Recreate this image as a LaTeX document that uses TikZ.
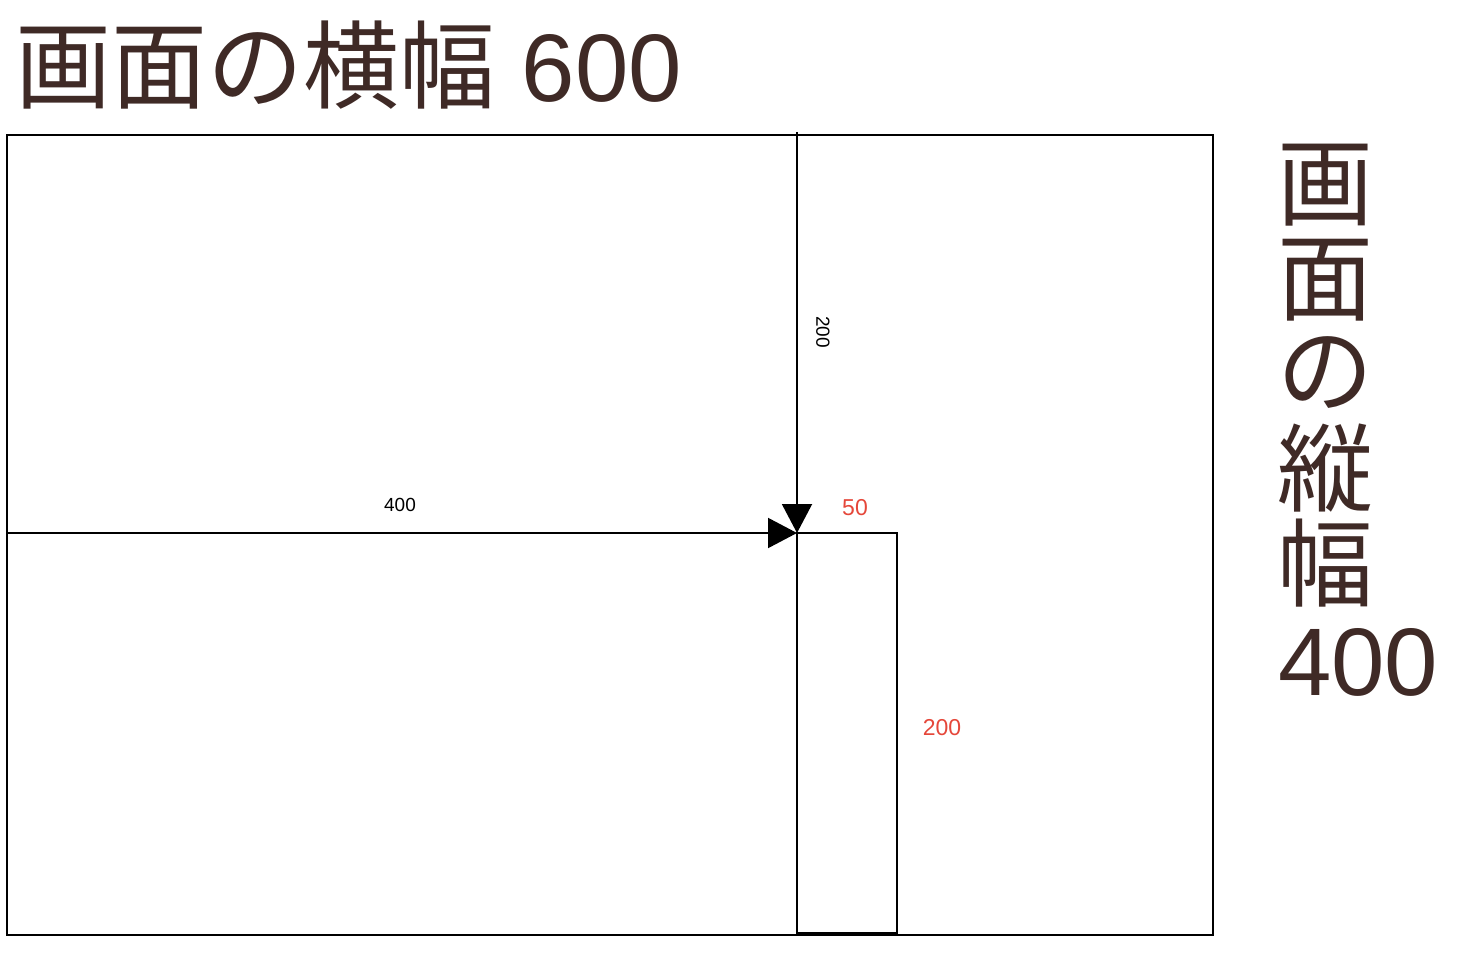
\documentclass[tikz,border=0pt]{standalone}
\usepackage{fontspec}
\setmainfont{Liberation Sans}
\newfontfamily\cjk{Noto Sans CJK JP}
\usetikzlibrary{arrows.meta}
\definecolor{titlebrown}{HTML}{3F2A26}
\definecolor{dimred}{HTML}{E5473A}
\tikzset{
  box/.style={draw=black, line width=2pt, fill=none},
  dimarrow/.style={draw=black, line width=2pt, -{Triangle[length=29pt,width=30pt]}},
  bigtext/.style={inner sep=0pt, anchor=base west, text=titlebrown, font=\fontsize{96}{96}\selectfont},
  smalllabel/.style={inner sep=0pt, font=\fontsize{19}{19}\selectfont},
  redlabel/.style={inner sep=0pt, text=dimred, font=\fontsize{23}{23}\selectfont}
}
\begin{document}
\begin{tikzpicture}[x=1pt,y=-1pt]
\useasboundingbox (0,0) rectangle (1462,968);
% screen and small box
\draw[box] (7,135) rectangle (1213,935);
\draw[box] (797,533) rectangle (897,933);
\coordinate (hstart) at (7,533);
\coordinate (vstart) at (797,132);
\coordinate (corner) at (797,533);
\draw[dimarrow] (hstart) -- (corner);
\draw[dimarrow] (vstart) -- (corner);
% labels
\node[smalllabel] (l400) at (400,505) {400};
\node[smalllabel, rotate=-90] (l200) at (823,332) {200};
\node[redlabel] (l50) at (855,508) {50};
\node[redlabel] (r200) at (942,728) {200};
% title
\node[bigtext] (title) at (15,102) {{\cjk 画面の横幅} 600};
% vertical text
\node[bigtext] (v1) at (1277,219) {\cjk 画};
\node[bigtext] (v2) at (1277,314) {\cjk 面};
\node[bigtext] (v3) at (1277,405) {\cjk の};
\node[bigtext] (v4) at (1277,504) {\cjk 縦};
\node[bigtext] (v5) at (1277,599) {\cjk 幅};
\node[bigtext] (v6) at (1278,695) {400};
\end{tikzpicture}
\end{document}
